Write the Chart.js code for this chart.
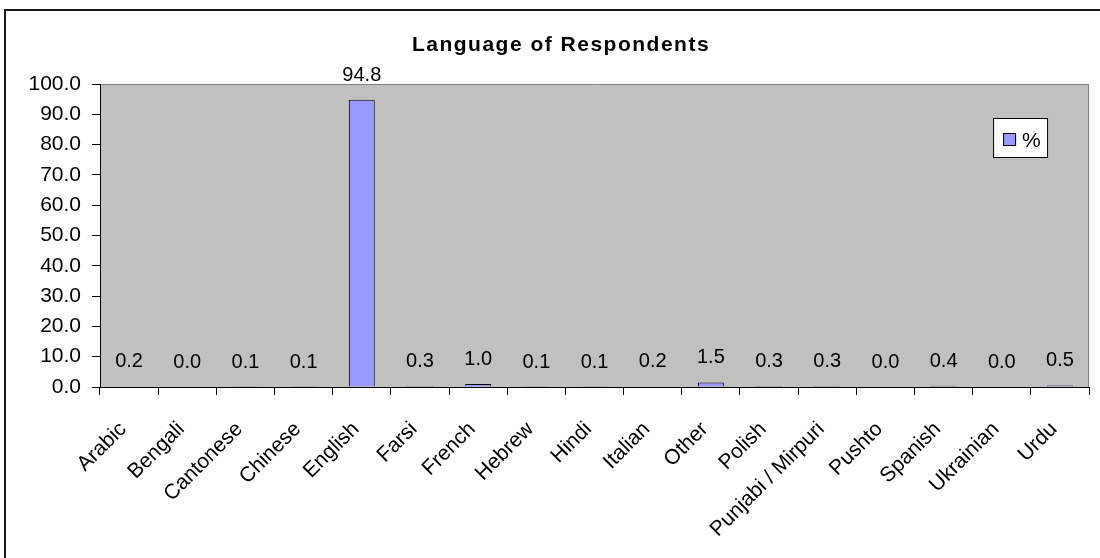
<!DOCTYPE html>
<html>
<head>
<meta charset="utf-8">
<script src="https://cdn.jsdelivr.net/npm/chart.js@4/dist/chart.umd.min.js"></script>
<style>
  html, body { margin: 0; padding: 0; background: #fff; }
  #wrap { position: relative; width: 1100px; height: 558px; }
</style>
</head>
<body>
<div id="wrap"><canvas id="c" width="1100" height="558"></canvas></div>
<script>
const chartTitle = "Language of Respondents";
const categories = ["Arabic","Bengali","Cantonese","Chinese","English","Farsi","French","Hebrew","Hindi","Italian","Other","Polish","Punjabi / Mirpuri","Pushto","Spanish","Ukrainian","Urdu"];
const seriesLabel = "%";
const seriesValues = [0.2, 0.0, 0.1, 0.1, 94.8, 0.3, 1.0, 0.1, 0.1, 0.2, 1.5, 0.3, 0.3, 0.0, 0.4, 0.0, 0.5];
const yTickMin = 0, yTickMax = 100, yTickStep = 10;

const FONT = "'Liberation Sans', Arial, sans-serif";
const FS = 20;
const AXFS = 21;

const framePlugin = {
  id: 'frame',
  beforeDraw(chart) {
    const ctx = chart.ctx, a = chart.chartArea;
    ctx.save();
    ctx.fillStyle = '#ffffff';
    ctx.fillRect(0, 0, chart.width, chart.height);
    // outer border
    ctx.fillStyle = '#1a1a1a';
    ctx.fillRect(4, 9, chart.width, 2);
    ctx.fillRect(4, 9, 2, chart.height);
    // plot area
    ctx.fillStyle = '#c0c0c0';
    ctx.fillRect(a.left, a.top, a.right - a.left, a.bottom - a.top);
    ctx.strokeStyle = '#808080';
    ctx.lineWidth = 1;
    ctx.beginPath();
    ctx.moveTo(a.left, a.top + 0.5);
    ctx.lineTo(a.right - 0.5, a.top + 0.5);
    ctx.lineTo(a.right - 0.5, a.bottom);
    ctx.stroke();
    ctx.restore();
  },
  afterDatasetsDraw(chart) {
    const ctx = chart.ctx;
    const meta = chart.getDatasetMeta(0);
    const data = chart.data.datasets[0].data;
    ctx.save();
    ctx.font = FS + "px " + FONT;
    ctx.fillStyle = '#000';
    ctx.textAlign = 'center';
    ctx.textBaseline = 'alphabetic';
    meta.data.forEach((el, i) => {
      ctx.fillText(Number(data[i]).toFixed(1), el.x, el.y - 19);
    });
    ctx.restore();
  },
  afterDraw(chart) {
    const ctx = chart.ctx, a = chart.chartArea;
    ctx.save();
    // title
    ctx.font = "bold 21px " + FONT;
    if ('letterSpacing' in ctx) ctx.letterSpacing = '1.5px';
    ctx.fillStyle = '#000';
    ctx.textAlign = 'center';
    ctx.textBaseline = 'alphabetic';
    ctx.fillText(chartTitle, 561, 51);
    if ('letterSpacing' in ctx) ctx.letterSpacing = '0px';
    // legend
    const ds = chart.data.datasets[0];
    const lx = a.right - 96, ly = a.top + 34, lw = 55, lh = 40;
    ctx.fillStyle = '#ffffff';
    ctx.fillRect(lx, ly, lw, lh);
    ctx.strokeStyle = '#000';
    ctx.lineWidth = 1;
    ctx.strokeRect(lx + 0.5, ly + 0.5, lw - 1, lh - 1);
    ctx.fillStyle = ds.backgroundColor;
    ctx.fillRect(lx + 10, ly + 15, 13, 13);
    ctx.strokeRect(lx + 10.5, ly + 15.5, 12, 12);
    ctx.fillStyle = '#000';
    ctx.font = AXFS + "px " + FONT;
    ctx.textAlign = 'left';
    ctx.fillText(ds.label, lx + 29, ly + 29);
    ctx.restore();
  }
};

new Chart(document.getElementById('c'), {
  type: 'bar',
  data: {
    labels: categories,
    datasets: [{
      label: seriesLabel,
      data: seriesValues,
      backgroundColor: '#9999ff',
      borderColor: '#000000',
      borderWidth: 1,
      categoryPercentage: 1.0,
      barPercentage: 0.445
    }]
  },
  options: {
    responsive: false,
    animation: false,
    devicePixelRatio: 1,
    layout: { padding: { left: 0, right: 7, top: 84, bottom: 0 } },
    plugins: {
      legend: { display: false },
      title: { display: false },
      tooltip: { enabled: false }
    },
    scales: {
      x: {
        grid: { offset: true, drawOnChartArea: false, drawTicks: true, tickLength: 8, color: '#000', lineWidth: 1 },
        border: { display: true, color: '#000', width: 1 },
        ticks: {
          autoSkip: false, maxRotation: 45, minRotation: 45, padding: 22, labelOffset: -6,
          color: '#000', font: { family: FONT, size: AXFS }
        },
        afterFit(scale) { scale.height = 171; }
      },
      y: {
        min: yTickMin, max: yTickMax,
        grid: { drawOnChartArea: false, drawTicks: true, tickLength: 8, color: '#000', lineWidth: 1 },
        border: { display: true, color: '#000', width: 1 },
        ticks: {
          stepSize: yTickStep, padding: 11, color: '#000',
          font: { family: FONT, size: AXFS },
          callback: v => Number(v).toFixed(1)
        },
        afterFit(scale) { scale.width = 100; }
      }
    }
  },
  plugins: [framePlugin]
});
</script>
</body>
</html>
